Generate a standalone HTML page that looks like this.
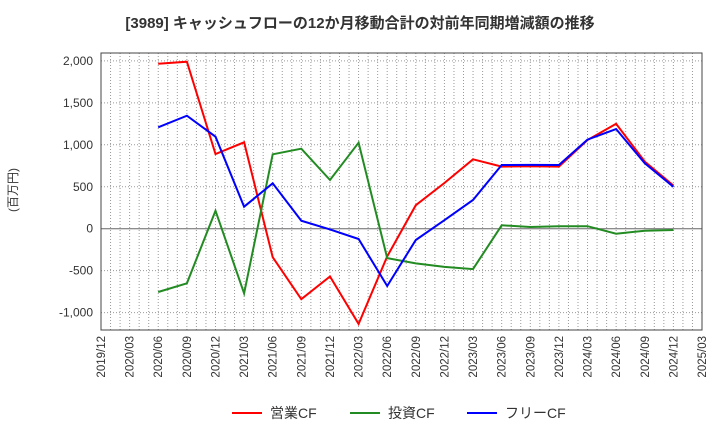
<!DOCTYPE html>
<html><head><meta charset="utf-8"><style>
body{margin:0;background:#fff;font-family:"Liberation Sans","Noto Sans CJK JP",sans-serif}
</style></head><body>
<svg width="720" height="440" xmlns="http://www.w3.org/2000/svg" id="c" font-family="Liberation Sans, Noto Sans CJK JP, sans-serif">
<text x="360" y="28" text-anchor="middle" font-size="15" font-weight="bold" fill="#333">[3989]  キャッシュフローの12か月移動合計の対前年同期増減額の推移</text>
<text transform="translate(17,190) rotate(-90)" text-anchor="middle" font-size="12" fill="#333">(百万円)</text>
<g id="grid"></g><g id="axes"></g><g id="series"></g>
<g font-size="14" fill="#333">
<line x1="232" y1="413" x2="262" y2="413" stroke="#ff0000" stroke-width="2"/><text x="270" y="418">営業CF</text>
<line x1="350" y1="413" x2="380" y2="413" stroke="#228b22" stroke-width="2"/><text x="388" y="418">投資CF</text>
<line x1="467" y1="413" x2="497" y2="413" stroke="#0000ff" stroke-width="2"/><text x="505" y="418">フリーCF</text>
</g>
</svg>
<script>
const xLabels=["2019/12","2020/03","2020/06","2020/09","2020/12","2021/03","2021/06","2021/09","2021/12","2022/03","2022/06","2022/09","2022/12","2023/03","2023/06","2023/09","2023/12","2024/03","2024/06","2024/09","2024/12","2025/03"];
const yTicks=[2000,1500,1000,500,0,-500,-1000];
const operatingCF=[null,null,1967,1990,890,1030,-340,-840,-570,-1135,-330,280,545,827,740,745,740,1057,1250,800,515];
const investingCF=[null,null,-755,-651,215,-770,887,954,580,1025,-350,-413,-455,-482,40,20,30,30,-60,-24,-16];
const freeCF=[null,null,1208,1347,1097,262,541,95,-8,-123,-683,-135,101,342,759,760,759,1062,1188,780,500];
const L=101,R=702,T=53,B=330;
const X=i=>L+i*(R-L)/21;
const Y=v=>228.7-v*0.0839;
const ns="http://www.w3.org/2000/svg";
function mk(t,a,p){const e=document.createElementNS(ns,t);for(const k in a)e.setAttribute(k,a[k]);p.appendChild(e);return e;}
const g=document.getElementById('grid'),ax=document.getElementById('axes'),s=document.getElementById('series');
for(let m=1;m<63;m++){const x=L+m*(R-L)/63;const l=mk('line',{x1:x,x2:x,y1:T,y2:B,stroke:'#999','stroke-dasharray':'1,2','stroke-width':1},g);

}
yTicks.forEach(v=>{const y=Y(v);const l=mk('line',{x1:L,x2:R,y1:y,y2:y,stroke:v===0?'#666':'#999','stroke-dasharray':v===0?'':'1,2','stroke-width':1},g);


const t=mk('text',{x:L-8,y:y+4,'text-anchor':'end','font-size':12,fill:'#333'},ax);t.textContent=v.toLocaleString('en-US');

});
const fr=mk('rect',{x:L,y:T,width:R-L,height:B-T,fill:'none',stroke:'#444','stroke-width':1},ax);


xLabels.forEach((lb,i)=>{const x=X(i);const t=mk('text',{transform:`translate(${x+4},${B+6}) rotate(-90)`,'text-anchor':'end','font-size':11.5,fill:'#333'},ax);t.textContent=lb;

});
[[operatingCF,'#ff0000','operating-cf-line'],[investingCF,'#228b22','investing-cf-line'],[freeCF,'#0000ff','free-cf-line']].forEach(([d,c,n])=>{
const pts=d.map((v,i)=>v===null?null:X(i).toFixed(1)+','+Y(v).toFixed(1)).filter(p=>p).join(' ');
const p=mk('polyline',{points:pts,fill:'none',stroke:c,'stroke-width':2},s);

});
</script>
</body></html>
